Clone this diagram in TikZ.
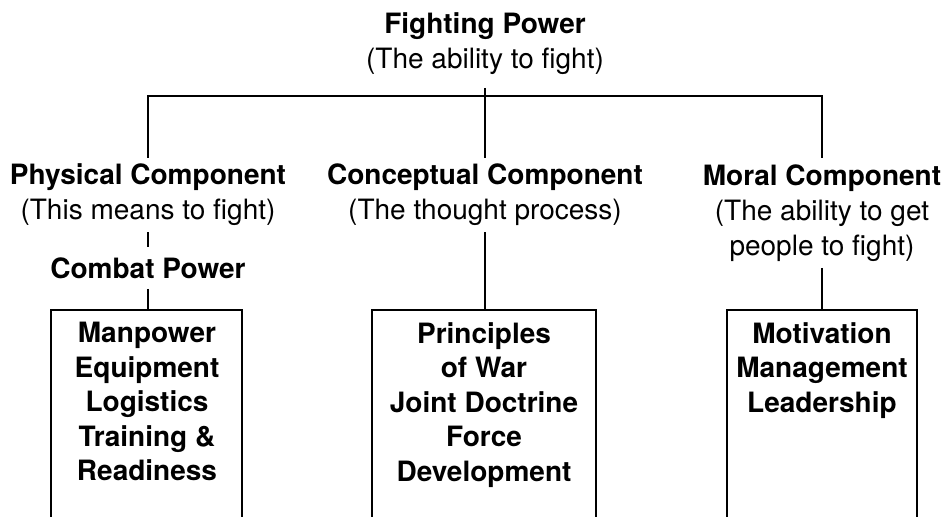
\documentclass[tikz,border=0pt]{standalone}
\usepackage{fontspec}
\setmainfont{TeX Gyre Heros}
\begin{document}
\begin{tikzpicture}[x=0.5pt,y=-0.5pt]
        \tikzstyle{head} = [align=center, font=\fontsize{14}{17.5}\selectfont, inner sep=3pt]
        \tikzstyle{item} = [align=center, font=\bfseries\fontsize{14}{17.25}\selectfont, anchor=north, inner sep=0pt]
        \tikzstyle{line} = [line width=1pt]

                \useasboundingbox (0,0) rectangle (948,516);

                \node (fp) [head, inner ysep=6.5pt] at (485,43.5) {\textbf{Fighting Power}\\(The ability to fight)};

                \node (pc) [head] at (148,195) {\textbf{Physical Component}\\(This means to fight)};
                \node (cc) [head] at (485,195) {\textbf{Conceptual Component}\\(The thought process)};
                \node (mc) [head] at (822,213) {\textbf{Moral Component}\\(The ability to get\\people to fight)};
                \node (cp) [head, font=\bfseries\fontsize{14}{17.5}\selectfont, inner ysep=5pt] at (148,268) {Combat Power};

                % tops of the open boxes
                \coordinate (pbox) at (148,310);
                \coordinate (cbox) at (485,310);
                \coordinate (mbox) at (822,310);
                \coordinate (bar) at (485,96);

                \draw[line] (51,520) |- (pbox) -| (242,520);
                \draw[line] (372,520) |- (cbox) -| (596,520);
                \draw[line] (727,520) |- (mbox) -| (917,520);

                \node (pitems) [item] at (147,322) {Manpower\\Equipment\\Logistics\\Training \&\\Readiness};
                \node (citems) [item] at (484,322) {Principles\\of War\\Joint Doctrine\\Force\\Development};
                \node (mitems) [item] at (822,322) {Motivation\\Management\\Leadership};

                \draw[line] (pc.north) |- (bar) -| (mc.north);
                \draw[line] (fp) -- (cc);
                \draw[line] (pc) -- (cp);
                \draw[line] (cp) -- (pbox);
                \draw[line] (cc) -- (cbox);
                \draw[line] (mc) -- (mbox);

    \end{tikzpicture}
\end{document}
